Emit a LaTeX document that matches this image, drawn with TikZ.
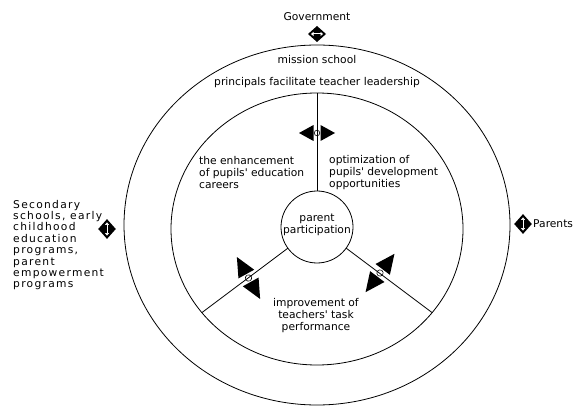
\documentclass[tikz,border=0pt]{standalone}
\usepackage{fontspec}
\setmainfont{DejaVu Sans}[Ligatures=TeXOff]
\newfontfamily\widefont[LetterSpace=12]{DejaVu Sans}
\usetikzlibrary{shapes.geometric,arrows.meta}
\begin{document}
\begin{tikzpicture}[x=1pt,y=1pt,
  every node/.style={font=\fontsize{10.7}{12}\selectfont, inner sep=0pt},
  ring/.style={draw, line width=0.8pt, ellipse, inner sep=0pt, outer sep=0pt},
  hub/.style={draw, line width=0.8pt, circle, inner sep=0pt, outer sep=0pt},
  lbl/.style={align=left, anchor=west},
  ctr/.style={align=center},
  conn/.style={line width=0.8pt},
  dblarrow/.pic={
    \fill (18,0) -- (3.5,8) -- (3.5,-8) -- cycle;
    \fill (-18,0) -- (-3.5,8) -- (-3.5,-8) -- cycle;
    \filldraw[fill=white, line width=0.6pt] (0,0) circle (2.8);
  },
  diagarrow/.pic={
    \fill (24,0) -- (4.5,9) -- (4.5,-9) -- cycle;
    \fill (-24,0) -- (-4.5,9) -- (-4.5,-9) -- cycle;
    \filldraw[fill=white, line width=0.6pt] (0,0) circle (3.2);
  },
  diam/.pic={
    \fill (0,8) -- (9,0) -- (0,-8) -- (-9,0) -- cycle;
    \draw[white, line width=1pt, {Triangle[length=2.5pt,width=4pt]}-{Triangle[length=2.5pt,width=4pt]}] (-6,0) -- (6,0);
  },
]
\useasboundingbox (0,0) rectangle (577,407);

% rings
\node[ring, minimum width=386pt, minimum height=360pt] (outer) at (317,182) {};
\node[ring, minimum width=292pt, minimum height=272pt] (inner) at (317,178) {};
\node[hub, minimum size=72pt] (cc) at (317,180) {};

% interaction arrows
\pic at (317,274) {dblarrow};
\pic[rotate=119] at (248.5,129) {diagarrow};
\pic[rotate=53] at (380,134) {diagarrow};

% spokes
\draw[conn] (cc.north) -- (inner.north);
\draw[conn] (cc.-144) -- (inner.-144);
\draw[conn] (cc.-36) -- (inner.-36);

% texts
\node (gov) at (317,390) {Government};
\pic at (317,373) {diam};
\node (ms) at (317,347) {mission school};
\node (pf) at (317,324) {principals facilitate teacher leadership};
\node[lbl] (enh) at (199,234) {the enhancement\\of pupils' education\\careers};
\node[lbl] (opt) at (329,234) {optimization of\\pupils' development\\opportunities};
\node[ctr] (pp) at (317,182) {parent\\participation};
\node[ctr] (imp) at (316,91) {improvement of\\teachers' task\\performance};
\node[lbl, font=\widefont\fontsize{10.7}{11.4}\selectfont] (sec) at (13,162)
  {Secondary\\schools, early\\childhood\\education\\programs,\\parent\\empowerment\\programs};
\pic[rotate=90, scale=1.1] at (107,178) {diam};
\pic[rotate=90, scale=1.1] at (523,183) {diam};
\node[lbl] (par) at (533,183) {Parents};
\end{tikzpicture}
\end{document}
